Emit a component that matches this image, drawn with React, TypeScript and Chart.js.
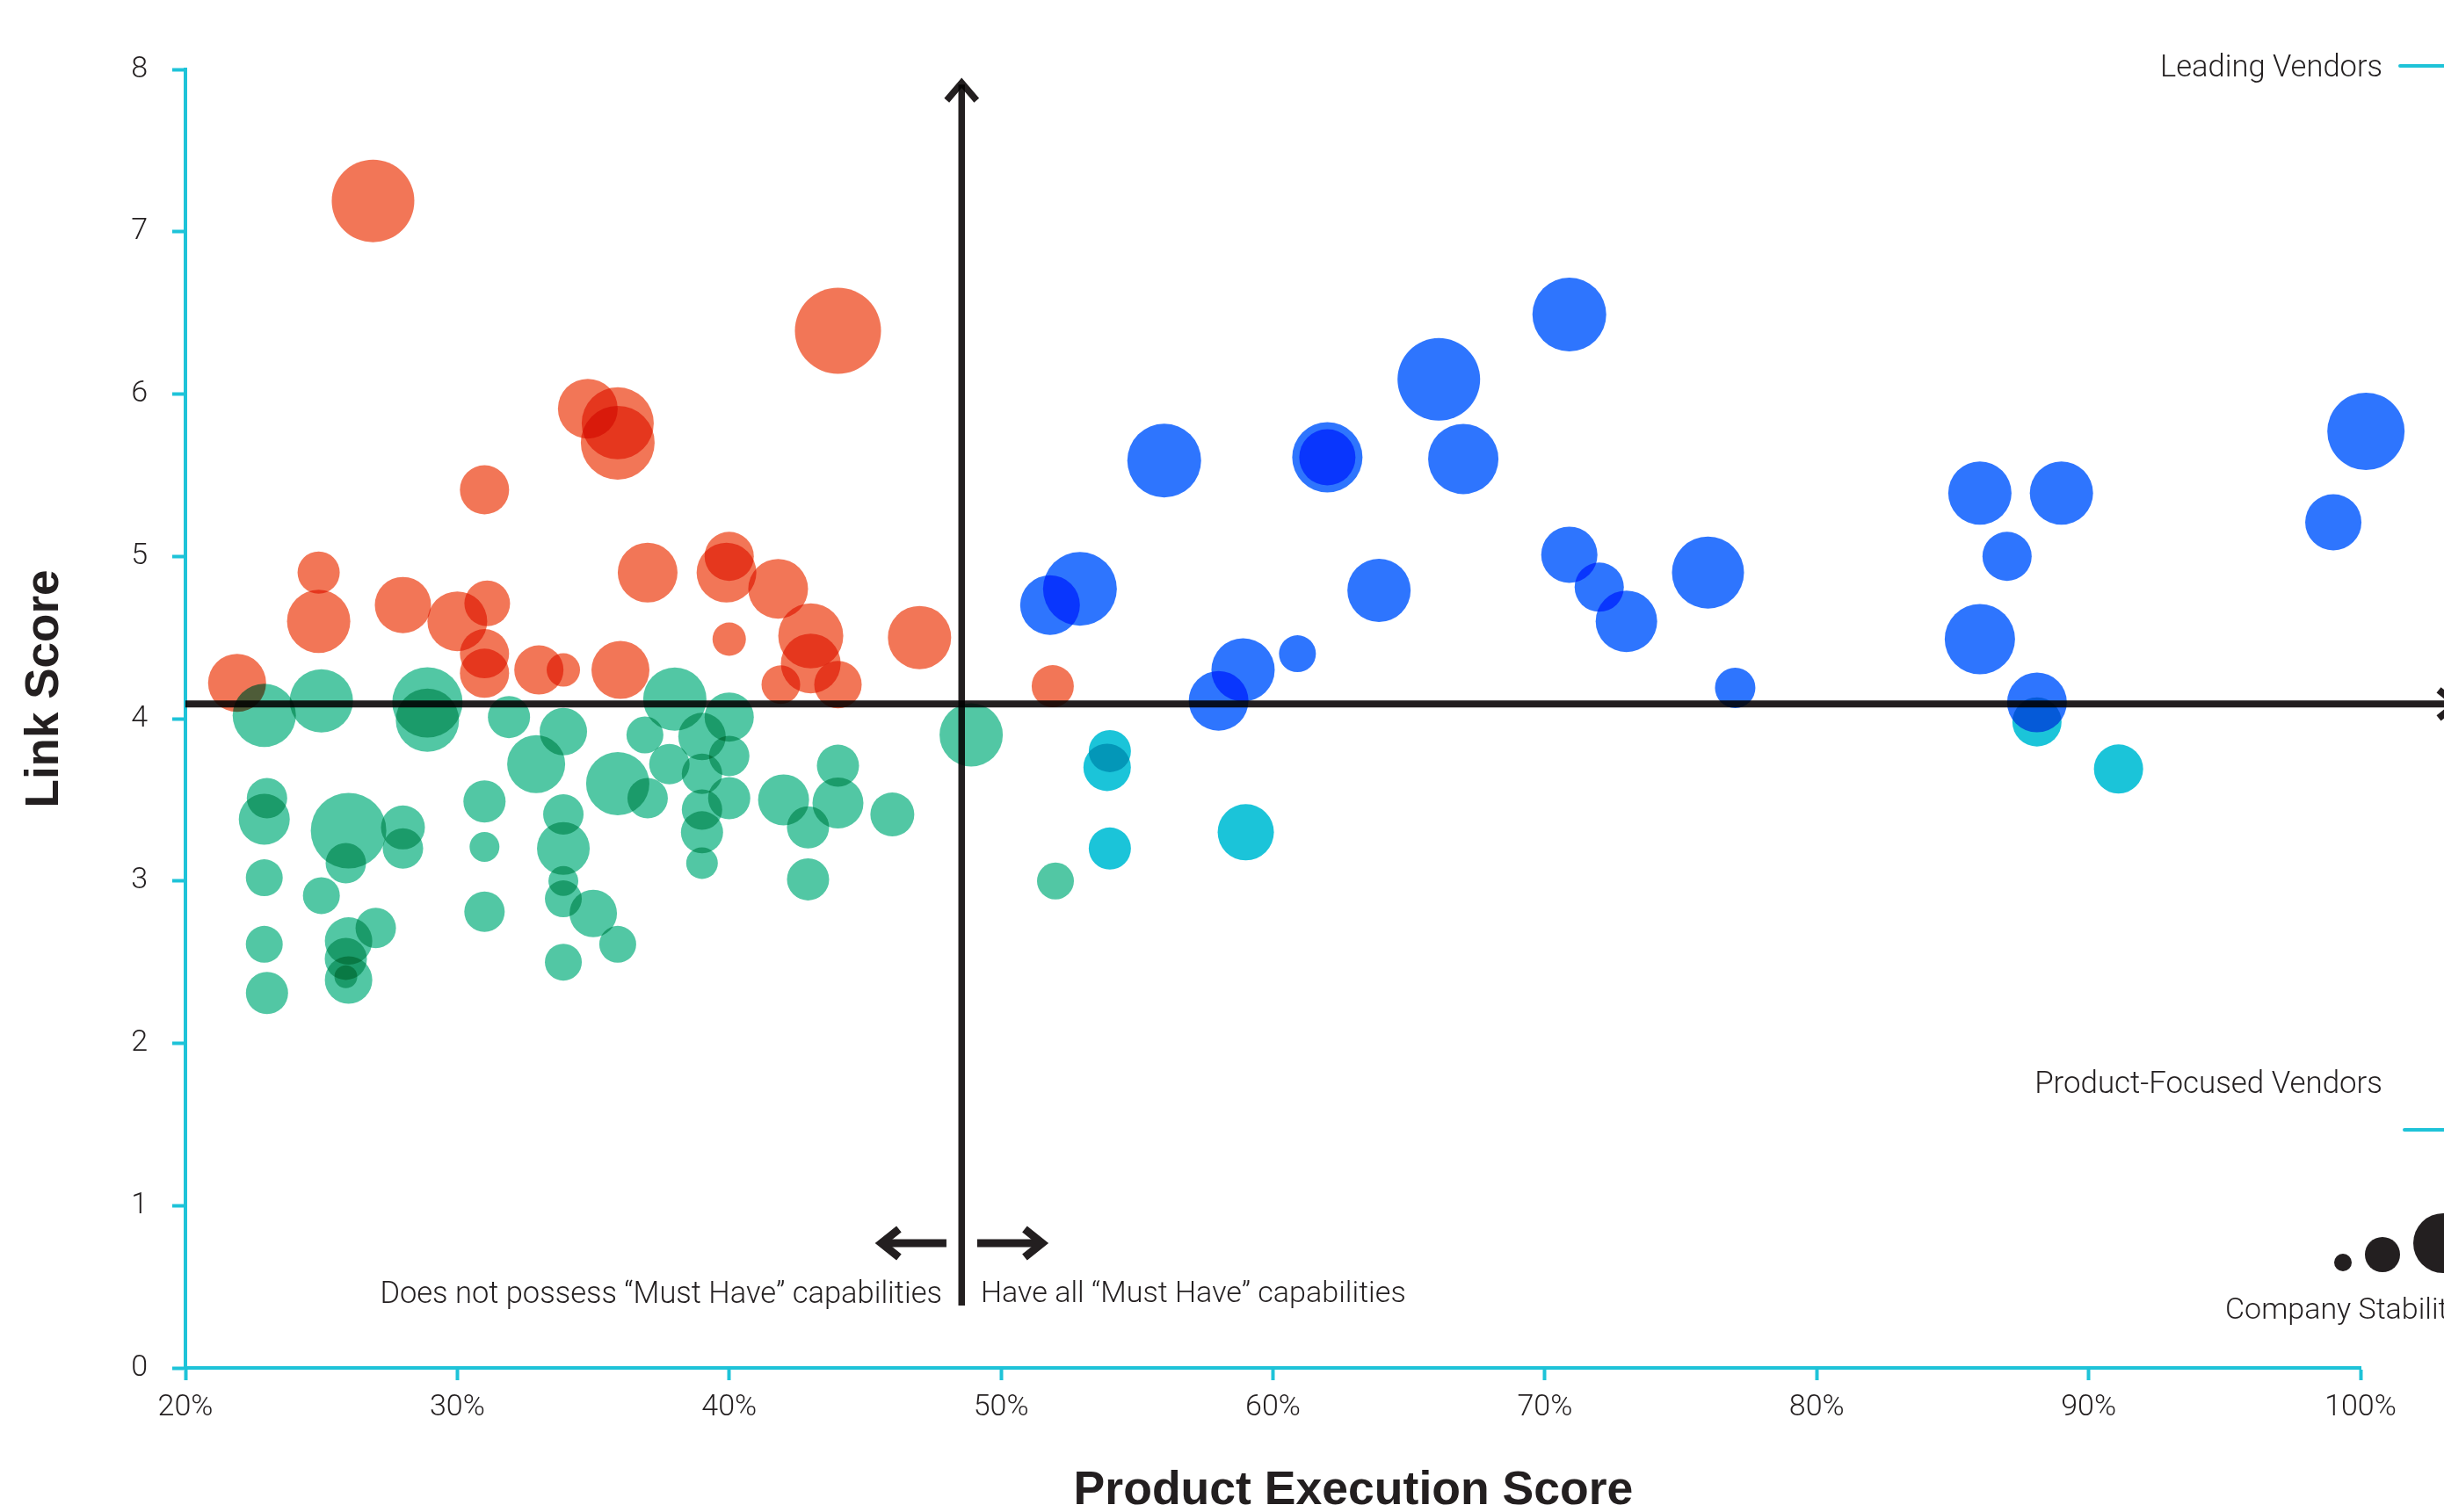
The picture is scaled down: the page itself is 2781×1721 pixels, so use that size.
import React, { useEffect, useRef } from "react";
import { Chart, registerables } from "chart.js";

Chart.register(...registerables);

const W = 2781;
const H = 1721;

// ---- axis ticks ----
const xTickValues = [20, 30, 40, 50, 60, 70, 80, 90, 100];
const yTickValues = [0, 1, 2, 3, 4, 5, 6, 7, 8];

// ---- quadrant thresholds ----
const MUST_HAVE_THRESHOLD = 48.55; // % product execution
const LINK_THRESHOLD = 4.09; // link score

// ---- data: x = Product Execution Score (%), y = Link Score, stability = Company Stability ----
const linkFocusedX = [26.9, 44.0, 34.8, 35.9, 35.9, 31.0, 24.9, 24.9, 28.0, 30.0, 31.1, 31.0, 31.0, 33.0, 33.9, 36.0, 37.0, 40.0, 39.9, 41.8, 40.0, 43.0, 43.0, 41.9, 44.0, 47.0, 21.9, 51.9];
const linkFocusedY = [7.19, 6.39, 5.91, 5.82, 5.70, 5.41, 4.90, 4.60, 4.70, 4.60, 4.71, 4.40, 4.28, 4.30, 4.30, 4.30, 4.90, 5.00, 4.90, 4.80, 4.49, 4.51, 4.34, 4.21, 4.21, 4.50, 4.22, 4.20];
const linkFocusedStability = [11.75, 12.25, 8.5, 10.25, 10.5, 7, 6, 9, 8, 8.5, 6.5, 7, 7, 7, 4.75, 8.25, 8.5, 7, 8.5, 8.5, 4.75, 9.25, 8.5, 5.5, 6.75, 9, 8.25, 6];

const emergingX = [22.9, 25.0, 28.9, 28.9, 31.9, 33.9, 32.9, 35.9, 36.9, 37.0, 23.0, 22.9, 26.0, 25.9, 28.0, 28.0, 31.0, 31.0, 33.9, 33.9, 33.9, 33.9, 35.0, 35.9, 33.9, 31.0, 22.9, 25.0, 22.9, 23.0, 26.0, 27.0, 25.9, 26.0, 25.9, 38.0, 40.0, 39.0, 37.8, 40.0, 39.0, 39.0, 40.0, 39.0, 39.0, 42.0, 42.9, 44.0, 44.0, 46.0, 42.9, 48.9, 52.0];
const emergingY = [4.02, 4.11, 4.10, 3.99, 4.01, 3.92, 3.72, 3.60, 3.90, 3.51, 3.51, 3.38, 3.31, 3.11, 3.33, 3.20, 3.49, 3.21, 3.41, 3.20, 3.00, 2.89, 2.80, 2.61, 2.50, 2.81, 3.02, 2.91, 2.61, 2.31, 2.63, 2.71, 2.52, 2.39, 2.41, 4.12, 4.01, 3.89, 3.72, 3.77, 3.66, 3.44, 3.51, 3.30, 3.11, 3.50, 3.33, 3.71, 3.48, 3.41, 3.01, 3.90, 3.00];
const emergingStability = [9, 9, 10, 9, 6, 6.75, 8.25, 9, 5.25, 5.75, 5.75, 7.25, 10.75, 5.75, 6.25, 5.75, 6, 4.25, 5.75, 7.5, 4.25, 5.25, 6.75, 5.25, 5.25, 5.75, 5.25, 5.25, 5.25, 6, 6.75, 5.75, 6, 6.75, 3.25, 9, 7, 6.75, 5.75, 5.75, 5.75, 5.75, 6, 6, 4.5, 7.25, 6, 6, 7.25, 6.25, 6, 9, 5.25];

const leadingX = [70.9, 66.1, 56.0, 62.0, 62.0, 67.0, 51.8, 52.9, 63.9, 70.9, 72.0, 73.0, 76.0, 60.9, 58.9, 58.0, 77.0, 86.0, 89.0, 87.0, 86.0, 88.1, 100.2, 99.0];
const leadingY = [6.49, 6.09, 5.59, 5.61, 5.61, 5.60, 4.70, 4.80, 4.79, 5.01, 4.81, 4.60, 4.90, 4.40, 4.30, 4.11, 4.19, 5.39, 5.39, 5.00, 4.49, 4.10, 5.77, 5.21];
const leadingStability = [10.5, 11.75, 10.5, 10, 8, 10, 8.5, 10.5, 9, 8, 7, 8.75, 10.25, 5.25, 9, 8.5, 5.75, 9, 9, 7, 10, 8.5, 11, 8];

const productFocusedX = [54.0, 53.9, 54.0, 59.0, 88.1, 91.1];
const productFocusedY = [3.80, 3.70, 3.20, 3.30, 3.98, 3.69];
const productFocusedStability = [6, 6.75, 6, 8, 7, 7];

const RADIUS_PER_STABILITY = 4;

const INK = "#231f20";
const AXIS_CYAN = "#1ec3d8";
const LIGHT_FONT = "Roboto, 'Liberation Sans', Arial, sans-serif";
const BOLD_FONT = "'Liberation Sans', Arial, sans-serif";

const groups = [
  { label: "Link-focused", xs: linkFocusedX, ys: linkFocusedY, st: linkFocusedStability, color: "#f27657" },
  { label: "Emerging", xs: emergingX, ys: emergingY, st: emergingStability, color: "#52c7a4" },
  { label: "Leading Vendors", xs: leadingX, ys: leadingY, st: leadingStability, color: "#2e75fe" },
  { label: "Product-Focused Vendors", xs: productFocusedX, ys: productFocusedY, st: productFocusedStability, color: "#1bc4d9" },
];

function chevron(ctx: CanvasRenderingContext2D, tipX: number, tipY: number, dx: number, dy: number, back: number, half: number) {
  const bx = tipX - dx * back;
  const by = tipY - dy * back;
  const px = -dy;
  const py = dx;
  ctx.beginPath();
  ctx.moveTo(bx + px * half, by + py * half);
  ctx.lineTo(tipX, tipY);
  ctx.lineTo(bx - px * half, by - py * half);
  ctx.stroke();
}

function fitFont(ctx: CanvasRenderingContext2D, text: string, weight: string, family: string, target: number, nominal: number) {
  ctx.font = `${weight} 100px ${family}`;
  const w = ctx.measureText(text).width;
  let size = (100 * target) / w;
  size = Math.max(nominal * 0.85, Math.min(nominal * 1.15, size));
  ctx.font = `${weight} ${size}px ${family}`;
}

const decorPlugin = {
  id: "decor",
  beforeDraw(chart: any) {
    const { ctx, width, height } = chart;
    ctx.save();
    ctx.fillStyle = "#ffffff";
    ctx.fillRect(0, 0, width, height);
    ctx.restore();
  },
  beforeDatasetsDraw(chart: any) {
    chart.ctx.save();
    chart.ctx.globalCompositeOperation = "multiply";
  },
  afterDatasetsDraw(chart: any) {
    const { ctx, chartArea: ca, scales } = chart;
    const xs = scales.x;
    const ys = scales.y;
    ctx.strokeStyle = INK;
    ctx.lineJoin = "miter";
    ctx.lineCap = "butt";
    ctx.miterLimit = 10;

    // horizontal threshold line with arrow to the right
    const hy = ys.getPixelForValue(LINK_THRESHOLD);
    ctx.lineWidth = 8;
    ctx.beginPath();
    ctx.moveTo(ca.left, hy);
    ctx.lineTo(chart.width + 20, hy);
    ctx.stroke();
    chevron(ctx, chart.width + 14, hy, 1, 0, 20, 16);

    // vertical threshold line with arrow up
    const vx = xs.getPixelForValue(MUST_HAVE_THRESHOLD);
    const vTop = ys.getPixelForValue(7.95) + 6;
    const vBot = ys.getPixelForValue(0.384);
    ctx.lineWidth = 7.5;
    ctx.beginPath();
    ctx.moveTo(vx, vBot);
    ctx.lineTo(vx, vTop + 2);
    ctx.stroke();
    chevron(ctx, vx, vTop, 0, -1, 20, 17);
    ctx.restore();
  },
  afterDraw(chart: any) {
    const { ctx, chartArea: ca, scales } = chart;
    const xs = scales.x;
    const ys = scales.y;
    ctx.save();
    ctx.fillStyle = INK;
    ctx.strokeStyle = INK;

    // small direction arrows
    const ay = ys.getPixelForValue(0.769);
    ctx.lineWidth = 9;
    ctx.lineJoin = "miter";
    const lTip = xs.getPixelForValue(45.37) + 7;
    const lTail = xs.getPixelForValue(47.99);
    ctx.beginPath();
    ctx.moveTo(lTail, ay);
    ctx.lineTo(lTip + 2, ay);
    ctx.stroke();
    chevron(ctx, lTip, ay, -1, 0, 20, 16);
    const rTip = xs.getPixelForValue(51.74) - 7;
    const rTail = xs.getPixelForValue(49.12);
    ctx.beginPath();
    ctx.moveTo(rTail, ay);
    ctx.lineTo(rTip - 2, ay);
    ctx.stroke();
    chevron(ctx, rTip, ay, 1, 0, 20, 16);

    // capability labels
    const ty = ys.getPixelForValue(0.466) + 3;
    ctx.textBaseline = "middle";
    const t1 = "Does not possess \u201cMust Have\u201d capabilities";
    fitFont(ctx, t1, "300", LIGHT_FONT, 640, 34);
    ctx.textAlign = "right";
    ctx.fillText(t1, xs.getPixelForValue(47.83), ty);
    const t2 = "Have all \u201cMust Have\u201d capabilities";
    fitFont(ctx, t2, "300", LIGHT_FONT, 484, 34);
    ctx.textAlign = "left";
    ctx.fillText(t2, xs.getPixelForValue(49.25), ty);

    // quadrant legends
    const legendRight = ca.right + 25;
    const t3 = "Leading Vendors";
    fitFont(ctx, t3, "300", LIGHT_FONT, 253, 34);
    ctx.textAlign = "right";
    ctx.fillText(t3, legendRight, ca.top - 1);
    const t4 = "Product-Focused Vendors";
    fitFont(ctx, t4, "300", LIGHT_FONT, 396, 34);
    ctx.fillText(t4, legendRight, ca.bottom - 322);

    ctx.strokeStyle = AXIS_CYAN;
    ctx.lineWidth = 4;
    ctx.lineCap = "round";
    ctx.beginPath();
    ctx.moveTo(ca.right + 45, ca.top - 4);
    ctx.lineTo(chart.width + 5, ca.top - 4);
    ctx.moveTo(ca.right + 50, ca.bottom - 271);
    ctx.lineTo(chart.width + 5, ca.bottom - 271);
    ctx.stroke();

    // bubble size legend
    ctx.fillStyle = INK;
    const dots = [
      [ca.right - 20, ca.bottom - 120, 10],
      [ca.right + 25, ca.bottom - 129, 20],
      [ca.right + 94, ca.bottom - 142, 34],
    ];
    dots.forEach(([cx, cy, r]) => {
      ctx.beginPath();
      ctx.arc(cx, cy, r, 0, Math.PI * 2);
      ctx.fill();
    });
    ctx.font = `300 34px ${LIGHT_FONT}`;
    ctx.textAlign = "left";
    ctx.fillText("Company Stability", ca.right - 154, ca.bottom - 65);

    // axis titles
    ctx.fillStyle = INK;
    const yt = "Link Score";
    fitFont(ctx, yt, "bold", BOLD_FONT, 271, 54);
    ctx.save();
    ctx.translate(51, (ca.top + ca.bottom) / 2 - 34);
    ctx.rotate(-Math.PI / 2);
    ctx.textAlign = "center";
    ctx.textBaseline = "middle";
    ctx.fillText(yt, 0, 0);
    ctx.restore();

    const xt = "Product Execution Score";
    fitFont(ctx, xt, "bold", BOLD_FONT, 637, 52);
    ctx.textAlign = "center";
    ctx.textBaseline = "middle";
    ctx.fillText(xt, ca.left + 1329, ca.bottom + 140);

    ctx.restore();
  },
};

export default function App() {
  const ref = useRef<HTMLCanvasElement>(null);

  useEffect(() => {
    const canvas = ref.current;
    if (!canvas) return;
    const chart = new Chart(canvas, {
      type: "bubble",
      data: {
        datasets: groups.map((g) => ({
          label: g.label,
          data: g.xs.map((x, i) => ({ x, y: g.ys[i], r: g.st[i] * RADIUS_PER_STABILITY })),
          backgroundColor: g.color,
          borderWidth: 0,
          hoverBorderWidth: 0,
          clip: false as any,
        })),
      },
      options: {
        responsive: false,
        animation: false,
        events: [],
        layout: { padding: { left: 0, top: 79, right: 95, bottom: 0 } },
        plugins: {
          legend: { display: false },
          tooltip: { enabled: false },
          title: { display: false },
        },
        scales: {
          x: {
            type: "linear",
            min: xTickValues[0],
            max: xTickValues[xTickValues.length - 1],
            afterBuildTicks: (scale: any) => {
              scale.ticks = xTickValues.map((v) => ({ value: v }));
            },
            afterFit: (scale: any) => {
              scale.height = 164;
            },
            grid: {
              display: true,
              drawOnChartArea: false,
              drawTicks: true,
              tickLength: 14,
              tickWidth: 4,
              tickColor: AXIS_CYAN,
              color: AXIS_CYAN,
            },
            border: { display: true, color: AXIS_CYAN, width: 4 },
            ticks: {
              padding: 11,
              color: INK,
              font: { family: LIGHT_FONT, size: 34, weight: "300" as any },
              callback: (v: any) => `${v}%`,
              maxRotation: 0,
              autoSkip: false,
            },
          },
          y: {
            type: "linear",
            min: yTickValues[0],
            max: yTickValues[yTickValues.length - 1],
            afterBuildTicks: (scale: any) => {
              scale.ticks = yTickValues.map((v) => ({ value: v }));
            },
            afterFit: (scale: any) => {
              scale.width = 211;
            },
            grid: {
              display: true,
              drawOnChartArea: false,
              drawTicks: true,
              tickLength: 15,
              tickWidth: 4,
              tickColor: AXIS_CYAN,
              color: AXIS_CYAN,
            },
            border: { display: true, color: AXIS_CYAN, width: 4 },
            ticks: {
              padding: 28,
              color: INK,
              font: { family: LIGHT_FONT, size: 34, weight: "300" as any },
              callback: (v: any) => `${v}`,
              autoSkip: false,
            },
          },
        },
      },
      plugins: [decorPlugin as any],
    });
    return () => chart.destroy();
  }, []);

  return (
    <div style={{ position: "fixed", left: 0, top: 0, width: W, height: H, background: "#fff", overflow: "hidden" }}>
      <canvas ref={ref} width={W} height={H} style={{ display: "block", width: W, height: H }} />
    </div>
  );
}
